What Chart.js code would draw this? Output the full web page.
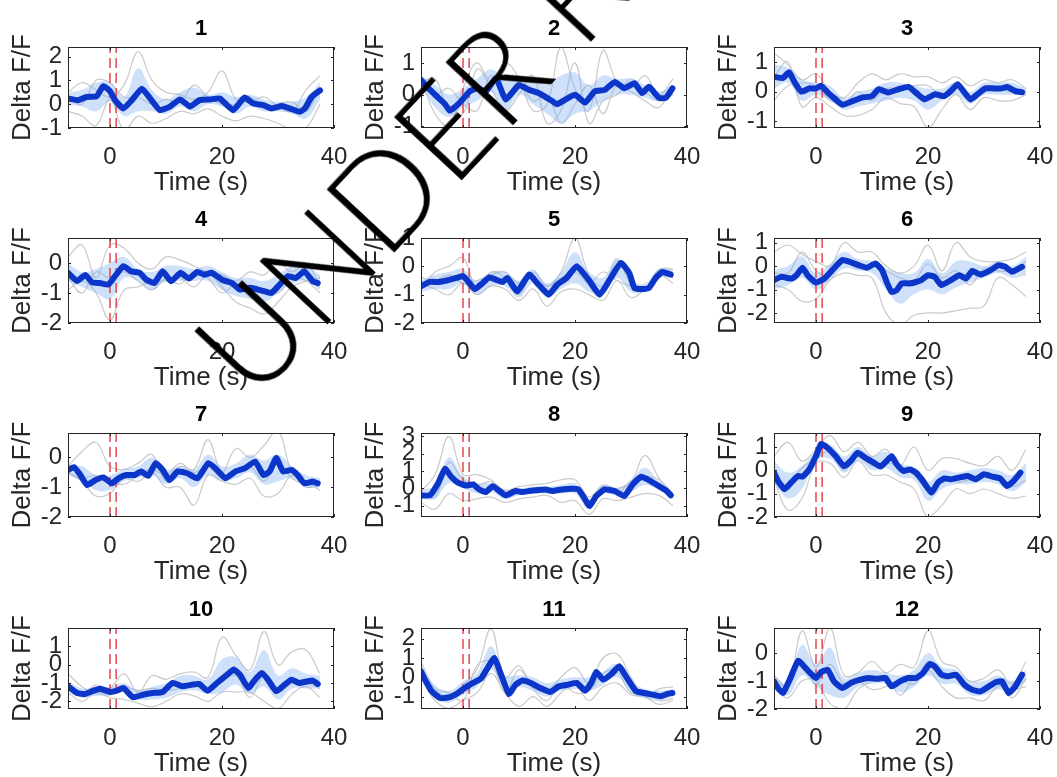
<!DOCTYPE html>
<html>
<head>
<meta charset="utf-8">
<script src="https://cdn.jsdelivr.net/npm/chart.js@4.4.1/dist/chart.umd.min.js"></script>
<style>
  html, body { margin: 0; padding: 0; background: #fff; }
  body { width: 1057px; height: 777px; position: relative; overflow: hidden; }
  .panel { position: absolute; }
  #stamp {
    position: absolute; left: 250px; top: 290px;
    font: 300 130px/1 Lato, 'Open Sans', sans-serif; color: #000;
    white-space: nowrap; transform-origin: 0 110px; transform: rotate(-47deg);
    z-index: 5; pointer-events: none;
  }
</style>
</head>
<body>
<div id="stamp">UNDER REVIEW</div>
<script>
const FONT = "'Liberation Sans', Arial, Helvetica, sans-serif";

const panelTitles = ['1', '2', '3', '4', '5', '6', '7', '8', '9', '10', '11', '12'];
const xTicks = [0, 20, 40];
const xMin = -7.5, xMax = 40;
const stimOnset = [0, 1.1];

const yMin = [-1, -1.05, -1.22, -2, -2, -2.43, -2, -1.65, -2, -2.42, -1.64, -2];
const yMax = [2.4, 1.5, 1.5, 0.83, 1.0, 1.2, 0.82, 3.2, 1.6, 2.0, 2.55, 0.9];
const yTicks = [
  [-1, 0, 1, 2], [-1, 0, 1], [-1, 0, 1], [-2, -1, 0], [-2, -1, 0, 1], [-2, -1, 0, 1],
  [-2, -1, 0], [-1, 0, 1, 2, 3], [-2, -1, 0, 1], [-2, -1, 0, 1], [-1, 0, 1, 2], [-2, -1, 0]
];

// mean trace of each panel, [time, value] pairs
const meanCurves = [
  [[-7.5,0.24],[-5.7,0.17],[-4.2,0.3],[-2.4,0.33],[-1.2,0.75],[0,0.55],[0.9,0.17],[2.4,-0.18],[3.9,0.17],[5.7,0.65],[7.4,0.17],[8.9,-0.25],[10.7,-0.1],[12.5,0.2],[14.3,-0.1],[16,0.17],[17.9,0.2],[19.6,0.24],[22,-0.25],[24,0.28],[25.6,0.03],[27.4,-0.04],[28.9,-0.18],[30.7,-0.08],[32.1,-0.18],[33.9,-0.32],[34.8,-0.18],[36,0.3],[37.5,0.58]],
  [[-7.5,0.46],[-6.5,0.26],[-4.7,-0.05],[-3.2,-0.3],[-2.4,-0.5],[-1.5,-0.4],[-0.3,-0.2],[1.2,0.1],[2.6,0.2],[4.1,0.1],[5.9,0.52],[7.6,-0.15],[10,0.3],[11.8,0.15],[13.5,0.05],[15.9,-0.2],[16.8,-0.3],[18.8,-0.1],[20,0],[21.8,-0.25],[23.5,0.1],[25.3,0.15],[27.1,0.4],[28.8,0.2],[30.6,0.36],[32,0.05],[33.2,0.25],[35,-0.1],[36.2,-0.1],[37.4,0.2]],
  [[-7.5,0.5],[-5.9,0.46],[-4.8,0.65],[-3.8,0.31],[-2.6,0],[-1.2,0.11],[0,0.11],[0.9,0.2],[2.1,-0.03],[3.5,-0.26],[4.7,-0.44],[6.5,-0.32],[8.2,-0.2],[10,-0.15],[11.2,0.08],[12.9,-0.03],[14.7,0.08],[16.5,0.16],[18.2,-0.09],[19.4,-0.26],[21.2,-0.09],[22.9,-0.15],[24.1,0.02],[25.3,0.25],[26.5,-0.03],[27.6,-0.26],[28.8,-0.09],[30.3,0.11],[31.8,0.11],[33.2,0.11],[34.1,0.16],[35.6,0.02],[36.8,-0.02]],
  [[-7.5,-0.33],[-5.9,-0.6],[-4.4,-0.4],[-3.2,-0.65],[-1.8,-0.67],[-0.3,-0.72],[0.9,-0.44],[2.4,-0.11],[3.8,-0.28],[5.3,-0.33],[6.5,-0.56],[7.9,-0.67],[9.4,-0.28],[10.9,-0.61],[12.6,-0.33],[14.1,-0.52],[15.6,-0.3],[16.8,-0.39],[18.2,-0.33],[20,-0.56],[21.8,-0.67],[23.2,-0.89],[25,-0.83],[27.1,-0.92],[28.8,-1.0],[30.3,-0.72],[31.8,-0.44],[33.2,-0.5],[34.7,-0.28],[36.2,-0.61],[37.1,-0.67]],
  [[-7.5,-0.7],[-5.9,-0.55],[-4.4,-0.55],[-2.9,-0.5],[-1.2,-0.41],[0,-0.35],[0.9,-0.53],[2.1,-0.8],[3.5,-0.59],[4.7,-0.39],[5.9,-0.47],[7.1,-0.55],[7.9,-0.41],[9.7,-0.88],[11.8,-0.29],[13.5,-0.65],[15.3,-1.0],[16.8,-0.65],[18.5,-0.41],[20.3,0.0],[22.4,-0.47],[24.4,-1.0],[26.2,-0.47],[28.2,0.12],[29.7,-0.24],[30.6,-0.76],[31.8,-0.8],[33.2,-0.76],[34.4,-0.41],[35.6,-0.2],[37.1,-0.29]],
  [[-7.5,-0.6],[-6.2,-0.46],[-4.4,-0.53],[-3.5,-0.39],[-2.4,-0.07],[-1.5,-0.39],[0,-0.7],[1.5,-0.53],[2.9,-0.17],[4.7,0.26],[5.9,0.19],[7.6,0.04],[9.1,-0.07],[10.6,0.11],[11.8,-0.17],[12.6,-0.67],[13.5,-1.1],[14.4,-1.03],[15.3,-0.74],[16.5,-0.74],[17.6,-0.7],[18.8,-0.6],[20,-0.39],[21.2,-0.46],[22.4,-0.81],[24.1,-0.6],[25.6,-0.39],[26.8,-0.53],[27.9,-0.21],[29.4,-0.36],[31.2,-0.17],[32.6,0.04],[33.8,-0.03],[35,-0.24],[36.8,-0.03]],
  [[-7.5,-0.42],[-6.4,-0.33],[-5.3,-0.59],[-4.1,-0.93],[-2.6,-0.76],[-1.2,-0.67],[0.3,-0.87],[1.5,-0.7],[2.9,-0.59],[4.4,-0.59],[5.6,-0.47],[6.8,-0.62],[8.2,-0.19],[9.4,-0.42],[10.6,-0.76],[12.1,-0.47],[13.8,-0.53],[15.6,-0.7],[17.6,-0.19],[19.1,-0.42],[20.6,-0.7],[22.4,-0.47],[24.1,-0.36],[25.9,-0.14],[27.4,-0.59],[28.5,-0.47],[29.7,-0.02],[30.9,-0.47],[32.4,-0.42],[33.5,-0.59],[34.7,-0.87],[36.2,-0.81],[37.1,-0.87]],
  [[-7.5,-0.4],[-5.9,-0.4],[-4.4,0.33],[-3.2,1.13],[-2.1,0.67],[-0.9,0.33],[0.6,0.17],[1.8,0.23],[2.9,-0.06],[4.1,-0.21],[5.3,0.13],[6.5,-0.15],[7.6,-0.4],[9.4,-0.15],[10.6,-0.21],[11.8,-0.15],[13.2,-0.1],[14.7,-0.06],[15.9,-0.15],[17.6,-0.06],[19.4,-0.02],[20.6,-0.06],[21.8,-0.63],[22.6,-1.02],[23.8,-0.44],[25.3,-0.06],[27.1,-0.15],[28.8,-0.44],[30.3,0.23],[31.8,0.67],[33.2,0.48],[35,0.13],[36.2,-0.1],[37.1,-0.4]],
  [[-7.5,-0.1],[-6.8,-0.45],[-5.6,-0.81],[-4.4,-0.52],[-3.2,-0.24],[-2.4,-0.27],[-1.2,0.04],[0,0.61],[0.9,1.13],[2.1,0.96],[3.5,0.61],[5,0.18],[6.2,0.4],[7.4,0.75],[8.8,0.54],[10.3,0.33],[11.5,0.16],[12.6,0.4],[13.5,0.61],[14.4,0.26],[15.6,-0.03],[16.8,0.04],[17.9,-0.1],[19.1,-0.45],[20.6,-0.95],[21.8,-0.52],[22.9,-0.35],[24.1,-0.38],[25.6,-0.31],[27.1,-0.24],[28.5,-0.38],[30,-0.17],[31.5,-0.27],[32.9,-0.35],[34.1,-0.67],[35.3,-0.45],[36.5,-0.1]],
  [[-7.5,-1.18],[-5.9,-1.55],[-4.4,-1.6],[-2.9,-1.42],[-1.8,-1.31],[0,-1.49],[1.2,-1.42],[2.4,-1.27],[4.1,-1.78],[5.9,-1.64],[7.6,-1.55],[9.4,-1.49],[11.2,-1.0],[12.9,-1.18],[14.7,-1.09],[15.9,-1.05],[17.4,-1.42],[19.1,-1.0],[20.9,-0.55],[22.1,-0.27],[23.2,-0.55],[24.7,-1.27],[25.9,-0.82],[27.1,-0.45],[28.2,-0.82],[29.7,-1.45],[31.2,-1.09],[32.4,-0.82],[33.8,-1.0],[35.3,-0.91],[36.2,-0.87],[37.1,-1.05]],
  [[-7.5,0.31],[-6.8,-0.12],[-5.6,-0.72],[-4.1,-1.07],[-2.4,-1.03],[-0.9,-0.81],[0.3,-0.55],[1.8,-0.29],[3.2,-0.07],[4.4,0.48],[5.6,1.0],[6.8,0.14],[8.2,-0.86],[9.4,-0.38],[10.6,-0.17],[12.1,-0.29],[13.8,-0.55],[15.6,-0.76],[17.1,-0.47],[18.8,-0.38],[20.3,-0.29],[21.8,-0.69],[22.9,-0.29],[23.8,0.28],[25,-0.12],[26.5,0.17],[27.9,0.57],[29.1,0.05],[30.9,-0.72],[32.4,-0.81],[33.8,-0.9],[35.3,-0.98],[36.5,-0.86],[37.4,-0.81]],
  [[-7.5,-1.01],[-6.8,-1.25],[-5.9,-1.43],[-4.7,-0.95],[-3.2,-0.27],[-2.1,-0.48],[-1.2,-0.68],[0,-0.89],[0.9,-0.68],[2.1,-0.6],[3.2,-1.01],[4.7,-1.25],[6.2,-1.07],[7.9,-0.95],[9.4,-0.89],[10.9,-0.92],[12.4,-0.89],[13.5,-1.19],[15,-1.01],[16.5,-0.89],[17.9,-0.89],[19.1,-0.71],[20.3,-0.39],[21.2,-0.48],[22.4,-0.77],[23.5,-0.83],[25,-0.77],[26.5,-1.13],[27.9,-1.31],[29.4,-1.37],[30.9,-1.19],[32.1,-1.04],[33.2,-1.01],[34.4,-1.43],[35.6,-1.19],[36.8,-0.77]]
];

// coarse time grid for the shaded band and the single traces
const gridTime = [-7.5, -5, -2.5, 0, 2.5, 5, 7.5, 10, 12.5, 15, 17.5, 20, 22.5, 25, 27.5, 30, 32.5, 35, 37.5];

const bandUpper = [
  [0.5, 0.6, 0.9, 0.9, 0.3, 1.5, 0.6, 0.2, 0.5, 0.7, 0.4, 0.5, 0.3, 0.4, 0.2, 0.1, 0.1, 0.3, 0.9],
  [0.6, 0.3, 0.0, 0.2, 0.5, 0.8, 0.5, 0.5, 0.5, 0.3, 0.6, 0.7, 0.3, 0.6, 0.5, 0.5, 0.3, 0.1, 0.3],
  [0.9, 0.8, 0.4, 0.3, 0.2, -0.2, 0.0, 0.1, 0.3, 0.3, 0.2, 0.1, 0.1, 0.3, 0.0, 0.3, 0.3, 0.3, 0.1],
  [0.0, -0.3, -0.2, 0.0, 0.2, -0.2, -0.3, -0.1, -0.1, -0.2, -0.1, -0.3, -0.5, -0.5, -0.6, -0.4, -0.1, -0.1, -0.4],
  [-0.5, -0.3, -0.2, -0.1, -0.5, -0.2, -0.2, -0.5, -0.1, -0.6, -0.2, 0.5, -0.2, -0.4, 0.3, -0.5, -0.6, -0.1, -0.1],
  [-0.2, 0.0, 0.4, -0.3, 0.1, 0.6, 0.3, 0.2, -0.1, -0.3, -0.3, 0.3, -0.3, 0.2, 0.2, 0.0, 0.2, 0.0, 0.4],
  [-0.3, -0.3, -0.6, -0.6, -0.4, -0.3, 0.0, -0.4, -0.3, -0.4, 0.1, -0.3, -0.2, 0.1, -0.1, 0.1, -0.3, -0.6, -0.7],
  [-0.1, 0.2, 1.8, 0.7, 0.3, 0.3, -0.1, 0.0, 0.1, 0.1, 0.2, 0.3, -0.6, 0.2, 0.0, 0.5, 1.2, 0.4, -0.2],
  [0.4, -0.1, 0.2, 0.8, 1.1, 0.6, 1.0, 0.6, 0.8, 0.3, 0.1, -0.5, 0.0, -0.1, 0.0, 0.1, 0.0, -0.2, 0.3],
  [-0.9, -1.3, -1.2, -1.2, -1.0, -1.4, -1.2, -1.0, -0.6, -0.6, -0.8, 0.3, 0.4, -0.4, 0.8, -0.6, -0.2, -0.5, -0.6],
  [0.6, -0.4, -0.7, -0.2, 0.2, 1.6, 0.1, 0.1, 0.0, -0.3, -0.1, 0.0, 0.0, 0.3, 0.7, -0.2, -0.6, -0.7, -0.6],
  [-0.8, -1.1, 0.3, -0.4, 0.2, -0.9, -0.7, -0.6, -0.7, -0.8, -0.6, 0.0, -0.5, -0.6, -1.0, -1.0, -0.8, -1.0, -0.6]
];
const bandLower = [
  [0.0, -0.1, -0.3, 0.1, -0.5, -0.3, -0.3, -0.4, -0.1, -0.3, 0.0, -0.1, -0.4, -0.1, -0.3, -0.3, -0.4, -0.6, 0.2],
  [0.3, -0.4, -0.7, -0.4, -0.2, 0.1, -0.5, 0.0, -0.3, -0.6, -0.9, -0.6, -0.5, -0.2, 0.0, 0.0, -0.1, -0.2, 0.0],
  [0.1, 0.3, -0.3, -0.1, -0.3, -0.6, -0.5, -0.4, -0.3, -0.2, -0.3, -0.6, -0.3, -0.1, -0.4, -0.1, -0.1, -0.1, -0.1],
  [-0.6, -0.8, -1.0, -1.2, -0.5, -0.6, -0.9, -0.6, -0.6, -0.6, -0.6, -0.9, -1.1, -1.2, -1.3, -1.0, -0.7, -0.6, -0.9],
  [-0.9, -0.8, -0.8, -0.6, -1.0, -0.7, -0.7, -1.1, -0.6, -1.1, -0.8, -0.6, -0.9, -1.0, -0.4, -0.9, -0.9, -0.4, -0.4],
  [-1.0, -0.8, -0.5, -1.0, -0.6, -0.1, -0.2, -0.3, -1.0, -1.6, -1.2, -1.0, -1.2, -0.9, -0.7, -0.5, -0.3, -0.5, -0.4],
  [-0.6, -0.8, -1.1, -1.1, -0.8, -0.7, -0.6, -0.9, -0.7, -1.0, -0.6, -0.8, -0.7, -0.5, -0.9, -0.8, -0.7, -1.0, -1.0],
  [-0.6, -0.6, 0.3, 0.0, -0.3, -0.2, -0.6, -0.4, -0.3, -0.3, -0.3, -0.3, -1.2, -0.3, -0.4, -0.2, 0.2, -0.1, -0.6],
  [-0.5, -1.2, -0.8, 0.4, 0.5, -0.1, 0.4, 0.0, 0.1, -0.3, -0.4, -1.3, -0.8, -0.6, -0.6, -0.5, -0.6, -0.9, -0.5],
  [-1.4, -1.8, -1.7, -1.7, -1.5, -1.9, -1.9, -1.8, -1.5, -1.4, -1.6, -1.5, -1.1, -1.6, -1.2, -1.9, -1.3, -1.3, -1.3],
  [0.0, -1.1, -1.3, -0.9, -0.5, 0.4, -0.6, -0.5, -0.7, -1.0, -0.7, -0.6, -0.7, -0.4, 0.0, -0.8, -1.1, -1.2, -1.0],
  [-1.2, -1.5, -0.8, -1.2, -1.5, -1.6, -1.2, -1.1, -1.1, -1.4, -1.2, -0.8, -1.1, -1.1, -1.5, -1.5, -1.3, -1.4, -1.0]
];

const traceA = [
  [0.5, 0.9, 0.6, 0.3, 0.8, 2.2, 1.0, 0.5, 0.4, 0.2, 0.5, 1.4, 0.2, 0.1, 0.3, -0.1, -0.3, 0.6, 1.2],
  [0.5, -0.6, -1.0, 0.2, 1.0, 0.4, 1.0, 0.5, -0.5, -0.3, 1.5, 0.2, -0.5, 1.4, 0.4, 0.2, 0.6, 0.0, 0.5],
  [1.3, 0.9, 0.4, 0.6, 0.0, -0.2, 0.3, 0.6, 0.4, 0.6, 0.5, 0.5, 0.3, 0.5, 0.2, 0.4, 0.3, 0.4, 0.1],
  [0.2, 0.6, -0.5, 0.6, 0.5, 0.0, -0.2, 0.2, 0.1, -0.1, -0.3, -0.4, -0.6, -0.3, -0.4, 0.0, -0.3, 0.0, -0.8],
  [-0.8, -0.2, 0.0, 0.3, -0.8, -0.2, -0.4, -1.0, -0.2, -0.7, -0.2, 1.0, -0.3, -0.7, 0.2, -0.6, -0.8, -0.2, -0.4],
  [0.6, 0.9, 0.5, 0.2, 0.0, 1.0, 0.6, 0.6, 0.0, -0.3, 0.0, 0.9, -0.2, 1.0, 0.4, 0.2, 0.2, 0.3, 0.6],
  [-0.3, 0.2, 0.5, -0.3, -0.4, -0.2, 0.1, -0.8, -0.3, -0.4, 0.6, -0.5, 0.3, 0.0, 0.4, 0.9, -0.5, -0.8, -1.1],
  [-0.2, 0.8, 3.0, 0.8, 0.8, 0.5, -0.1, 0.1, 0.2, 0.3, 0.5, 0.5, -0.5, 0.2, 0.0, 0.4, 1.9, 0.6, -0.3],
  [0.6, 1.2, 0.4, 0.9, 1.5, 0.8, 1.2, 0.6, 0.9, 0.2, 1.0, 0.0, 0.5, 0.5, 0.3, 0.2, 0.6, 0.0, 0.9],
  [-0.5, -1.2, -1.6, -1.3, -0.5, -1.5, -0.6, -0.8, -0.5, -0.4, -0.7, 1.5, 0.5, -0.3, 1.8, 0.0, 0.7, 0.8, -0.5],
  [0.8, -0.6, -1.0, -0.4, 0.4, 2.5, 0.0, 0.6, -0.5, -0.7, 0.0, 0.5, -0.3, 1.0, 1.2, 0.0, -1.0, -0.6, -0.5],
  [-0.8, -1.2, 0.8, -0.5, 0.9, -0.8, -0.7, -0.3, -0.7, -0.4, -0.5, 0.8, -0.3, -0.5, -1.0, -0.9, -0.6, -1.1, -0.3]
];
const traceB = [
  [-0.3, -0.5, -0.9, 0.2, -1.1, -0.5, -0.8, -0.6, -0.3, -0.4, -0.2, -0.5, -0.7, -0.5, -0.6, -0.8, -1.1, -1.0, 0.0],
  [0.4, 0.5, -0.5, -0.6, 0.8, 0.2, -0.5, 0.0, 0.6, -0.9, -0.5, 1.0, -0.9, -0.2, 0.0, 0.5, 0.1, -0.2, 0.0],
  [0.5, 1.0, -0.5, -0.2, -0.5, -0.8, -0.8, -0.6, -0.2, -0.4, -0.5, -1.2, -0.6, -0.1, -0.6, -0.2, -0.3, -0.3, -0.1],
  [-0.9, -0.6, -1.0, -1.9, -0.9, -0.8, -0.6, -0.6, -0.5, -0.8, -0.4, -0.8, -1.3, -1.5, -1.7, -1.3, -0.8, -0.6, -0.5],
  [-0.6, -0.8, -1.0, -0.6, -1.0, -0.7, -0.8, -1.2, -0.8, -1.4, -0.9, -0.8, -1.0, -1.2, -0.5, -1.1, -0.8, -0.3, -0.6],
  [-0.8, -1.0, -1.5, -1.4, -0.6, -0.3, -0.4, -0.5, -2.0, -2.5, -2.1, -2.0, -2.0, -1.9, -1.8, -1.7, -0.5, -0.8, -1.3],
  [-0.5, -0.8, -1.3, -1.2, -0.7, -0.8, -0.5, -1.0, -1.0, -1.6, -0.6, -0.8, -0.9, -0.7, -1.3, -1.2, -0.6, -1.0, -0.9],
  [-0.8, -1.2, -0.3, -0.7, -0.6, -0.5, -0.8, -0.6, -0.5, -0.4, -0.8, -0.7, -1.5, -0.6, -0.7, -0.5, -0.3, -0.4, -1.0],
  [-0.4, -1.7, -1.2, 0.3, 0.3, -0.3, 0.4, -0.2, -0.2, -0.5, -0.8, -2.0, -1.5, -0.8, -1.0, -0.8, -1.0, -1.2, -1.1],
  [-1.5, -2.0, -1.5, -1.8, -1.9, -2.1, -2.3, -2.0, -1.6, -1.7, -2.0, -1.5, -1.5, -1.5, -2.0, -2.4, -1.6, -1.2, -1.8],
  [0.0, -1.2, -1.6, -1.2, -0.8, 0.2, -0.8, -1.5, -1.0, -1.5, -0.8, -0.4, -1.2, -0.5, -0.3, -0.9, -1.0, -1.4, -1.2],
  [-1.2, -1.6, -1.0, -1.0, -1.8, -2.0, -1.3, -1.0, -0.8, -1.5, -0.9, -0.6, -1.2, -1.6, -1.6, -1.7, -1.2, -1.3, -1.2]
];
const traceC = [
  [0.3, 0.0, 1.0, 0.9, 0.3, 0.3, 0.0, 0.2, 0.1, 0.8, 0.3, 0.0, 0.0, 0.3, -0.2, 0.0, 0.1, -0.3, 0.7],
  [0.3, 0.0, 0.2, -0.3, -0.5, 0.6, 0.0, 0.4, -0.2, 0.0, -0.9, -0.3, 0.3, -0.6, 0.3, 0.1, -0.2, -0.4, 0.3],
  [-0.3, 0.2, 0.3, 0.2, -0.3, -0.4, 0.0, -0.3, 0.1, 0.1, 0.2, 0.2, -0.1, 0.3, -0.3, 0.2, 0.1, 0.0, 0.0],
  [-0.5, -1.0, -0.3, -0.5, -0.3, -0.6, -0.9, -0.5, -0.7, -0.3, -0.5, -1.0, -0.7, -0.9, -0.9, -1.0, -0.5, -0.6, -1.0],
  [-0.4, -0.5, -0.3, -0.6, -0.5, -0.3, -0.2, -0.6, -0.4, -0.7, -0.4, -0.2, -0.6, -0.2, -0.5, -0.7, -0.8, -0.1, -0.1],
  [-0.3, -0.3, 0.6, -0.2, -0.4, 0.2, -0.1, 0.0, -0.2, -0.5, -0.6, 0.1, -0.5, -0.2, -0.8, -0.1, -0.2, -0.2, 0.2],
  [-0.5, -0.7, -0.6, -0.8, -0.9, -0.6, -0.4, -0.6, -0.2, -0.5, -0.3, -0.7, -0.4, -0.3, -0.8, -0.2, -0.7, -0.9, -0.8],
  [-0.3, -0.5, 1.5, 0.5, 0.2, 0.4, -0.3, -0.2, 0.0, -0.1, 0.0, 0.1, -0.8, 0.1, -0.3, 0.4, 0.7, 0.5, -0.4],
  [-0.2, -0.6, 0.1, 0.5, 0.8, 0.0, 0.6, 0.2, 0.3, 0.2, -0.2, -0.8, -0.3, -0.5, -0.4, -0.1, -0.3, -0.7, -0.4],
  [-1.0, -1.6, -1.1, -1.4, -1.2, -1.4, -1.3, -1.4, -1.3, -1.0, -1.3, -0.9, -0.6, -1.8, -0.6, -1.5, -1.0, -1.0, -1.3],
  [0.3, -0.6, -0.8, -1.2, 0.6, 0.8, -0.8, 0.4, -0.6, -1.2, -0.3, -0.8, -0.7, 0.2, 0.3, -0.8, -0.7, -1.2, -1.1],
  [-1.0, -1.2, -0.3, -1.1, -0.4, -1.1, -1.0, -1.3, -1.2, -1.0, -1.1, -0.3, -0.9, -0.9, -1.3, -1.4, -1.1, -1.6, -0.9]
];

// layout of the 4 x 3 grid (plot box positions in the page)
const colLeft = [68, 421, 774];
const plotWidth = 266;
const rowTop = [47, 238, 433, 628];
const rowHeight = [81, 85, 84, 81];
const yAxisWidth = 68, titleSpace = 47, xAxisSpace = 68, rightPad = 20;

const meanColor = '#0b36c9';
const bandColor = 'rgba(120, 170, 240, 0.36)';
const traceColor = '#cacaca';
const onsetColor = '#e4474f';
const axisColor = '#262626';

const onGrid = vals => vals.map((v, k) => ({x: gridTime[k], y: v}));

// box round the axes with inward ticks, like the original figure
const axesBox = {
  id: 'axesBox',
  afterDatasetsDraw(chart) {
    const {ctx, chartArea: a, scales: {x, y}} = chart;
    ctx.save();
    ctx.strokeStyle = axisColor;
    ctx.lineWidth = 1;
    ctx.beginPath();
    x.ticks.forEach(t => {
      const px = Math.round(x.getPixelForValue(t.value)) + 0.5;
      ctx.moveTo(px, a.bottom); ctx.lineTo(px, a.bottom - 3);
      ctx.moveTo(px, a.top); ctx.lineTo(px, a.top + 3);
    });
    y.ticks.forEach(t => {
      const py = Math.round(y.getPixelForValue(t.value)) + 0.5;
      ctx.moveTo(a.left, py); ctx.lineTo(a.left + 3, py);
      ctx.moveTo(a.right, py); ctx.lineTo(a.right - 3, py);
    });
    ctx.stroke();
    ctx.strokeRect(a.left + 0.5, a.top + 0.5, a.width - 1, a.height - 1);
    ctx.restore();
  }
};

panelTitles.forEach((title, i) => {
  const row = Math.floor(i / 3), col = i % 3;
  const w = yAxisWidth + plotWidth + rightPad;
  const h = titleSpace + rowHeight[row] + xAxisSpace;
  const box = document.createElement('div');
  box.className = 'panel';
  box.style.left = (colLeft[col] - yAxisWidth) + 'px';
  box.style.top = (rowTop[row] - titleSpace) + 'px';
  const canvas = document.createElement('canvas');
  canvas.width = w;
  canvas.height = h;
  box.appendChild(canvas);
  document.body.appendChild(box);

  const thin = { pointRadius: 0, clip: 0, tension: 0.4 };
  const onsetLine = t => ({
    data: [{x: t, y: yMin[i]}, {x: t, y: yMax[i]}],
    borderColor: onsetColor, borderWidth: 1.5, borderDash: [10, 5], pointRadius: 0, clip: 0
  });

  new Chart(canvas, {
    type: 'line',
    data: {
      datasets: [
        {
          data: meanCurves[i].map(p => ({x: p[0], y: p[1]})),
          borderColor: meanColor, borderWidth: 6, pointRadius: 0, clip: 0,
          tension: 0.15, borderJoinStyle: 'round', borderCapStyle: 'round'
        },
        onsetLine(stimOnset[0]),
        onsetLine(stimOnset[1]),
        { ...thin, data: onGrid(bandUpper[i]), borderColor: 'transparent', borderWidth: 0, fill: '+1', backgroundColor: bandColor },
        { ...thin, data: onGrid(bandLower[i]), borderColor: 'transparent', borderWidth: 0, fill: false },
        { ...thin, data: onGrid(traceA[i]), borderColor: traceColor, borderWidth: 1.2 },
        { ...thin, data: onGrid(traceB[i]), borderColor: traceColor, borderWidth: 1.2 },
        { ...thin, data: onGrid(traceC[i]), borderColor: traceColor, borderWidth: 1.2 }
      ]
    },
    options: {
      responsive: false,
      animation: false,
      events: [],
      layout: { padding: { left: 0, right: rightPad, top: 0, bottom: 0 } },
      plugins: {
        legend: { display: false },
        tooltip: { enabled: false },
        title: {
          display: true, text: title, fullSize: false, color: '#000',
          font: { family: FONT, size: 22, weight: 'bold', lineHeight: 1 },
          padding: { top: 18, bottom: 7 }
        }
      },
      scales: {
        x: {
          type: 'linear', min: xMin, max: xMax,
          grid: { display: false, drawTicks: false },
          border: { display: false },
          afterBuildTicks: s => { s.ticks = xTicks.map(v => ({value: v})); },
          afterFit: s => { s.height = xAxisSpace; s.paddingLeft = 0; s.paddingRight = 0; },
          ticks: { color: axisColor, font: { family: FONT, size: 24 }, padding: 15, maxRotation: 0, autoSkip: false },
          title: { display: true, text: 'Time (s)', color: axisColor, font: { family: FONT, size: 26, lineHeight: 1 }, padding: { top: 0, bottom: 0 } }
        },
        y: {
          min: yMin[i], max: yMax[i],
          grid: { display: false, drawTicks: false },
          border: { display: false },
          afterBuildTicks: s => { s.ticks = yTicks[i].map(v => ({value: v})); },
          afterFit: s => { s.width = yAxisWidth; s.paddingTop = 0; s.paddingBottom = 0; },
          ticks: { color: axisColor, font: { family: FONT, size: 24 }, padding: 6, autoSkip: false },
          title: { display: true, text: 'Delta F/F', color: axisColor, font: { family: FONT, size: 26, lineHeight: 1 }, padding: { top: 10, bottom: 0 } }
        }
      }
    },
    plugins: [axesBox]
  });
});
</script>
</body>
</html>
